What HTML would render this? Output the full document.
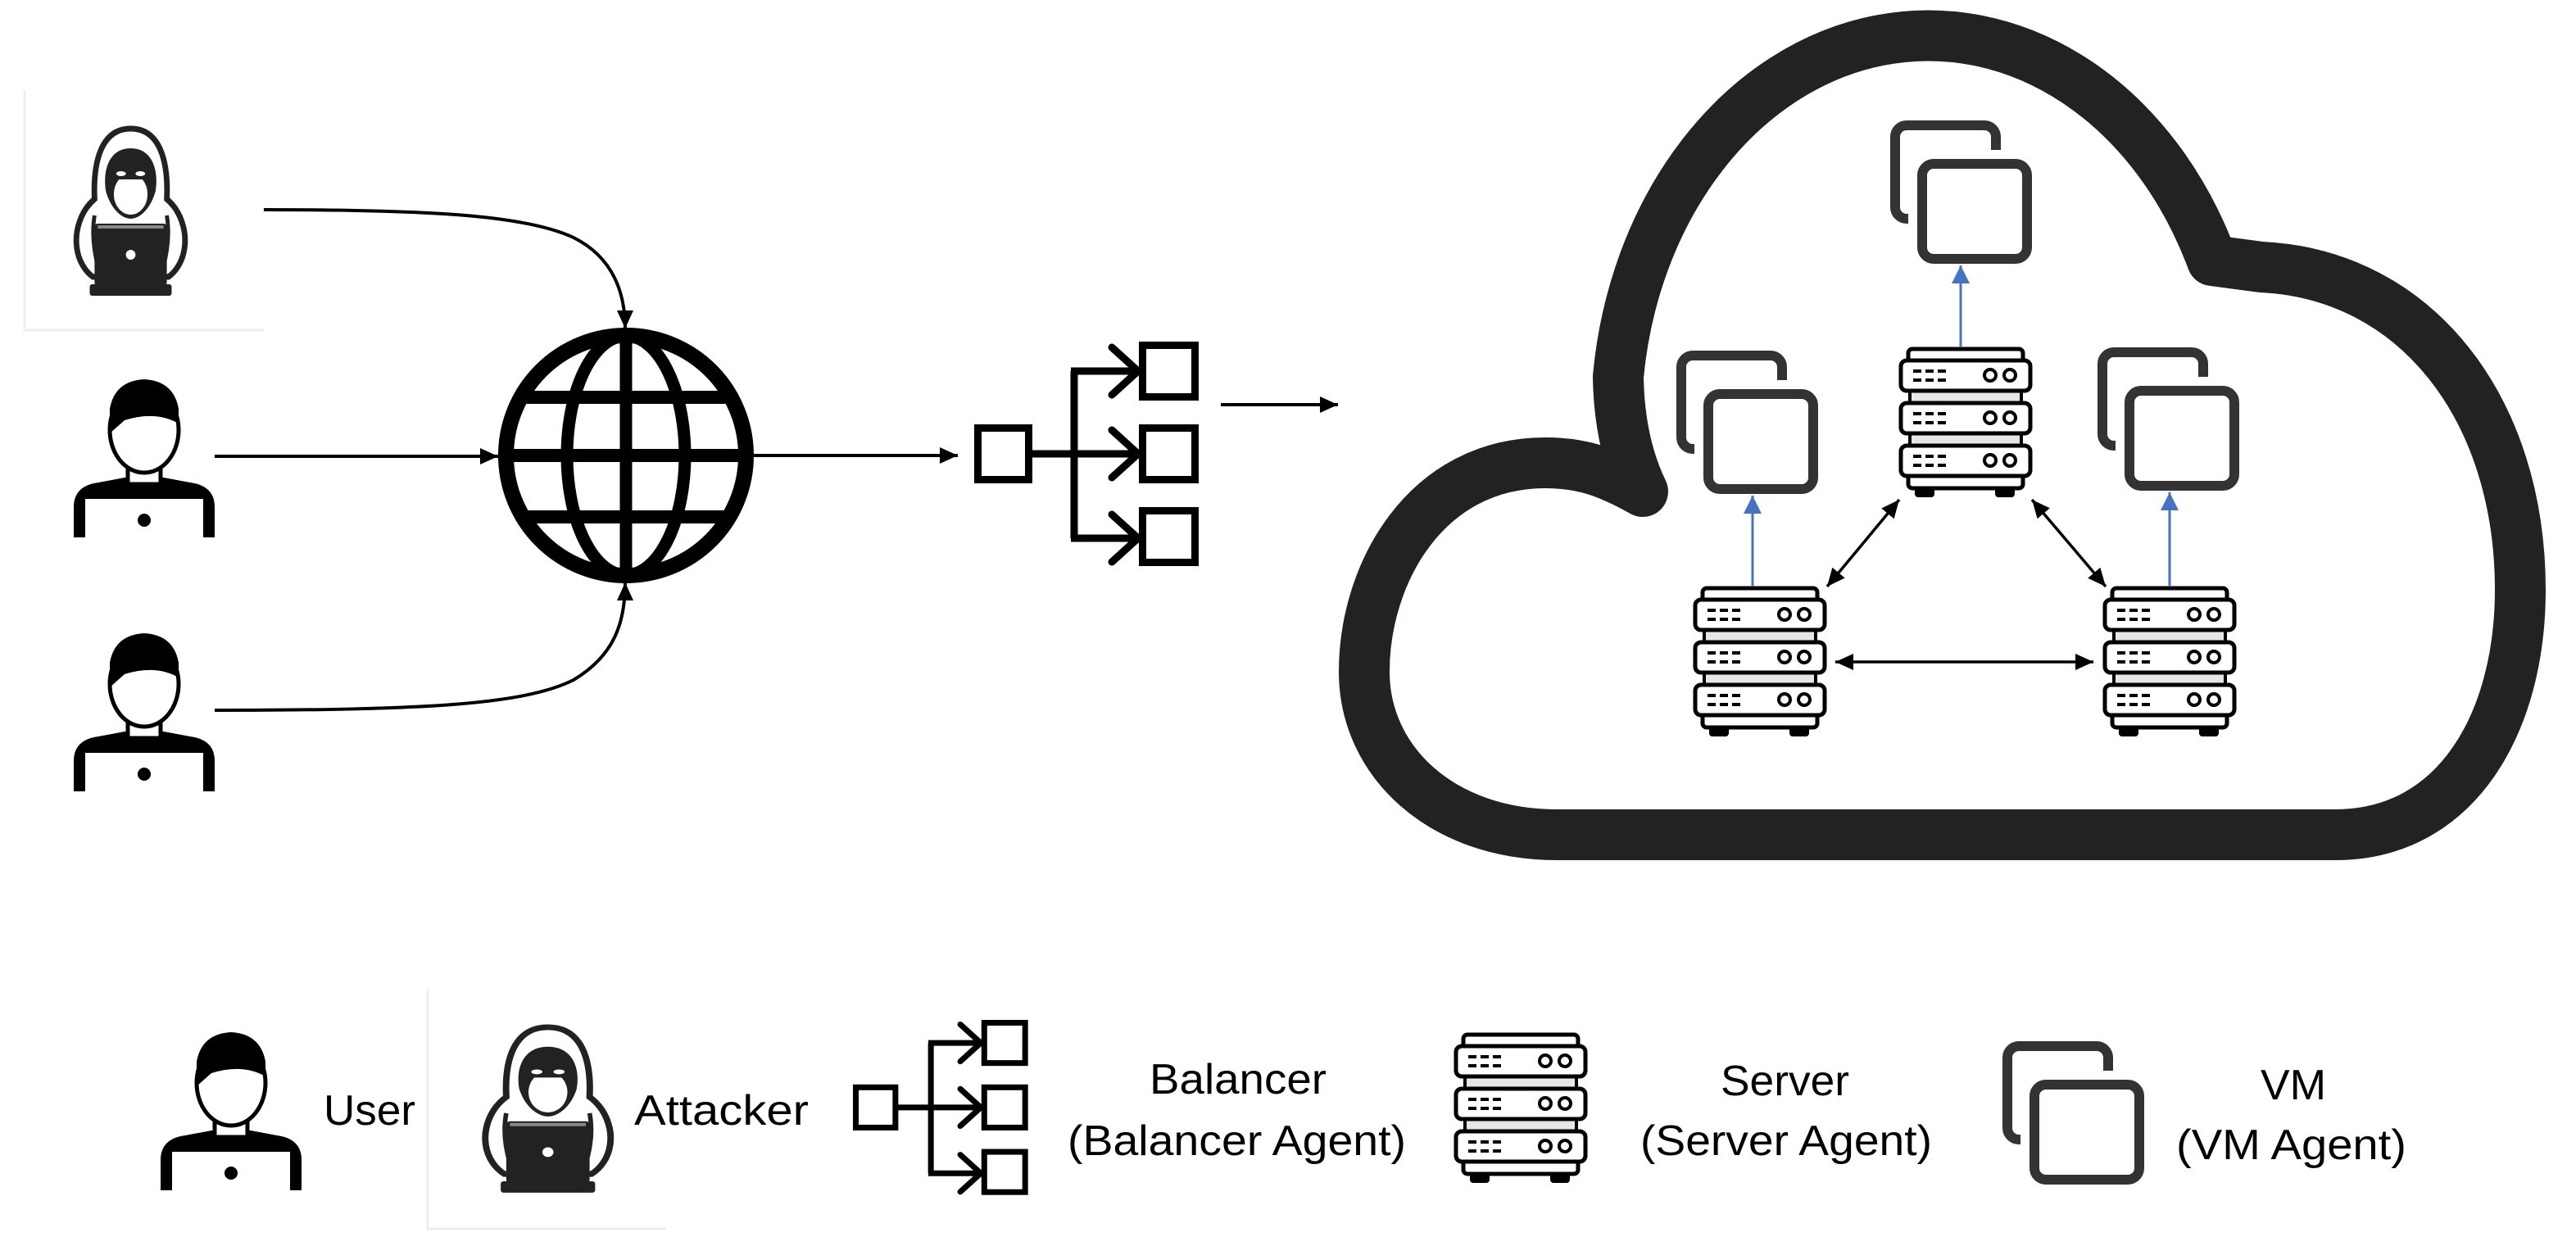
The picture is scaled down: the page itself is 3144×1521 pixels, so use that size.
<!DOCTYPE html>
<html><head><meta charset="utf-8"><style>html,body{margin:0;padding:0;background:#fff}svg{display:block}</style></head>
<body>
<svg xmlns="http://www.w3.org/2000/svg" width="3144" height="1521" viewBox="0 0 3144 1521">
<defs>
<marker id="ah" markerUnits="userSpaceOnUse" markerWidth="24" markerHeight="20" refX="22" refY="10" orient="auto-start-reverse"><path d="M0,0 L22,10 L0,20 Z" fill="#000"/></marker>
<marker id="ab" markerUnits="userSpaceOnUse" markerWidth="24" markerHeight="22" refX="22" refY="11" orient="auto"><path d="M0,0 L22,11 L0,22 Z" fill="#4472C4"/></marker>
<g id="user">
<path d="M0,197 L0,160 Q0,134 30,130 L62,124 L110,124 L142,130 Q172,134 172,160 L172,197 Z" fill="#000"/>
<rect x="14" y="150" width="144" height="47" fill="#fff"/>
<circle cx="86" cy="176" r="8" fill="#000"/>
<rect x="66" y="100" width="40" height="32" fill="#fff" stroke="#000" stroke-width="5"/>
<ellipse cx="86" cy="66" rx="42" ry="52" fill="#fff" stroke="#000" stroke-width="5"/>
<path d="M44,70 L44,40 Q50,6 86,4 Q122,6 128,40 L128,58 Q100,42 62,54 Z" fill="#000"/>
</g>
<g id="attacker">
<path d="M75,4 C38,4 28,45 30,90 C12,105 5,130 8,150 C10,165 18,178 28,185 L122,185 C132,178 140,165 142,150 C145,130 138,105 120,90 C122,45 112,4 75,4 Z" fill="#fff" stroke="#222" stroke-width="7"/>
<path d="M75,28 C48,28 40,55 44,80 C50,102 64,114 75,114 C86,114 100,102 106,80 C110,55 102,28 75,28 Z" fill="#222"/>
<ellipse cx="75" cy="84" rx="21" ry="25" fill="#fff"/>
<rect x="48" y="52" width="54" height="14" rx="6" fill="#222"/>
<ellipse cx="63" cy="59" rx="6" ry="3" fill="#fff"/><ellipse cx="87" cy="59" rx="6" ry="3" fill="#fff"/>
<path d="M30,110 Q25,140 35,175 M120,110 Q125,140 115,175" fill="none" stroke="#222" stroke-width="5"/>
<rect x="30" y="120" width="90" height="76" rx="4" fill="#222"/>
<rect x="34" y="122" width="82" height="4" fill="#888"/>
<circle cx="75" cy="158" r="6" fill="#fff"/>
<rect x="24" y="194" width="102" height="14" rx="3" fill="#222"/>
</g>
<g id="bal" fill="none" stroke="#000" stroke-width="9">
<rect x="4.5" y="105.5" width="62" height="63"/>
<rect x="205.5" y="4.5" width="64" height="63"/>
<rect x="205.5" y="105.5" width="64" height="63"/>
<rect x="205.5" y="206.5" width="64" height="63"/>
<path d="M66,137 L201,137 M122,36 L122,240 M118,36 L201,36 M118,240 L201,240"/>
<path d="M168,7 L200,36 L168,65 M168,108 L200,137 L168,166 M168,211 L200,240 L168,269" stroke-linecap="round"/>
</g>
<g id="srv">
<rect x="12" y="2" width="140" height="16" rx="5" fill="#fff" stroke="#000" stroke-width="5"/>
<rect x="12" y="154" width="140" height="18" rx="5" fill="#fff" stroke="#000" stroke-width="5"/>
<rect x="20" y="170" width="24" height="13" rx="4" fill="#000"/><rect x="118" y="170" width="24" height="13" rx="4" fill="#000"/>
<rect x="14" y="50" width="136" height="20" fill="#e6e6e6" stroke="#000" stroke-width="4"/>
<rect x="14" y="102" width="136" height="20" fill="#e6e6e6" stroke="#000" stroke-width="4"/>
<g fill="#fff" stroke="#000" stroke-width="5">
<rect x="3" y="16" width="158" height="37" rx="7"/>
<rect x="3" y="68" width="158" height="37" rx="7"/>
<rect x="3" y="120" width="158" height="37" rx="7"/>
</g>
<g stroke="#000" stroke-width="4">
<path d="M18,29 h10 M33,29 h10 M48,29 h10 M18,40 h10 M33,40 h10 M48,40 h10"/>
<path d="M18,81 h10 M33,81 h10 M48,81 h10 M18,92 h10 M33,92 h10 M48,92 h10"/>
<path d="M18,133 h10 M33,133 h10 M48,133 h10 M18,144 h10 M33,144 h10 M48,144 h10"/>
</g>
<g fill="none" stroke="#000" stroke-width="4">
<circle cx="112" cy="34" r="7"/><circle cx="136" cy="34" r="7"/>
<circle cx="112" cy="86" r="7"/><circle cx="136" cy="86" r="7"/>
<circle cx="112" cy="138" r="7"/><circle cx="136" cy="138" r="7"/>
</g>
</g>
<g id="vm">
<rect x="6" y="6" width="123" height="114" rx="14" fill="none" stroke="#333" stroke-width="12"/>
<rect x="39" y="53" width="128" height="116" rx="14" fill="#fff" stroke="#fff" stroke-width="34"/>
<rect x="39" y="53" width="128" height="116" rx="14" fill="#fff" stroke="#333" stroke-width="12"/>
</g>
</defs>

<path d="M30,110 L30,403 L322,403" fill="none" stroke="#eee" stroke-width="3"/>
<use href="#attacker" transform="translate(86,153) scale(0.98,1.0)"/>
<use href="#user" transform="translate(90,459)"/>
<use href="#user" transform="translate(90,769)"/>

<g fill="none" stroke="#000">
<circle cx="764" cy="556" r="146" stroke-width="18"/>
<ellipse cx="764" cy="556" rx="72" ry="146" stroke-width="15"/>
<path d="M764,410 L764,702" stroke-width="15"/>
<path d="M618,556 L910,556 M632,485 L896,485 M632,631 L896,631" stroke-width="16"/>
</g>
<circle cx="764" cy="556" r="155" fill="none" stroke="#000" stroke-width="2"/>

<g fill="none" stroke="#000" stroke-width="4">
<path d="M322,256 C520,256 640,262 700,290 C750,315 763,360 763,401" marker-end="url(#ah)"/>
<path d="M262,557 L608,557" marker-end="url(#ah)"/>
<path d="M262,867 C520,867 640,860 700,830 C750,800 763,760 763,711" marker-end="url(#ah)"/>
<path d="M918,556 L1169,556" marker-end="url(#ah)"/>
<path d="M1490,494 L1633,494" marker-end="url(#ah)"/>
</g>

<use href="#bal" transform="translate(1189,417)"/>

<path d="M2200,1019 L2850,1019 C3000,1019 3076,880 3076,720 C3076,500 2950,335 2760,326 L2700,318 A381,470 0 0 0 1975,460 C1976,520 1988,565 2005,600 C1960,575 1930,565 1886,565 C1740,565 1665,700 1665,820 C1665,930 1760,1019 1900,1019 Z" fill="none" stroke="#222" stroke-width="62" stroke-linejoin="round"/>

<use href="#vm" transform="translate(2307,147)"/>
<use href="#vm" transform="translate(2046,428)"/>
<use href="#vm" transform="translate(2560,424)"/>
<use href="#srv" transform="translate(2317,424)"/>
<use href="#srv" transform="translate(2066,716)"/>
<use href="#srv" transform="translate(2566,716)"/>

<g stroke="#4472C4" stroke-width="3" fill="none">
<path d="M2393,424 L2393,324" marker-end="url(#ab)"/>
<path d="M2139,716 L2139,605" marker-end="url(#ab)"/>
<path d="M2648,716 L2648,601" marker-end="url(#ab)"/>
</g>
<g stroke="#000" stroke-width="3.5" fill="none">
<path d="M2230,716 L2318,610" marker-start="url(#ah)" marker-end="url(#ah)"/>
<path d="M2480,610 L2570,716" marker-start="url(#ah)" marker-end="url(#ah)"/>
<path d="M2240,808 L2555,808" marker-start="url(#ah)" marker-end="url(#ah)"/>
</g>

<use href="#user" transform="translate(196,1256)"/>
<path d="M522,1207 L522,1500 L813,1500" fill="none" stroke="#eee" stroke-width="3"/>
<use href="#attacker" transform="translate(584,1250) scale(1.13,0.99)"/>
<use href="#bal" transform="translate(1041,1245) scale(0.78)"/>
<use href="#srv" transform="translate(1774,1261)"/>
<use href="#vm" transform="translate(2444,1271)"/>

<g font-family="'Liberation Sans', sans-serif" font-size="52" fill="#000">
<text x="395" y="1373" textLength="112" lengthAdjust="spacingAndGlyphs">User</text>
<text x="774" y="1373" textLength="213" lengthAdjust="spacingAndGlyphs">Attacker</text>
<text x="1403" y="1335" textLength="216" lengthAdjust="spacingAndGlyphs">Balancer</text>
<text x="1303" y="1410" textLength="413" lengthAdjust="spacingAndGlyphs">(Balancer Agent)</text>
<text x="2100" y="1337" textLength="157" lengthAdjust="spacingAndGlyphs">Server</text>
<text x="2002" y="1410" textLength="356" lengthAdjust="spacingAndGlyphs">(Server Agent)</text>
<text x="2759" y="1342" textLength="80" lengthAdjust="spacingAndGlyphs">VM</text>
<text x="2656" y="1415" textLength="281" lengthAdjust="spacingAndGlyphs">(VM Agent)</text>
</g>
</svg>
</body></html>
